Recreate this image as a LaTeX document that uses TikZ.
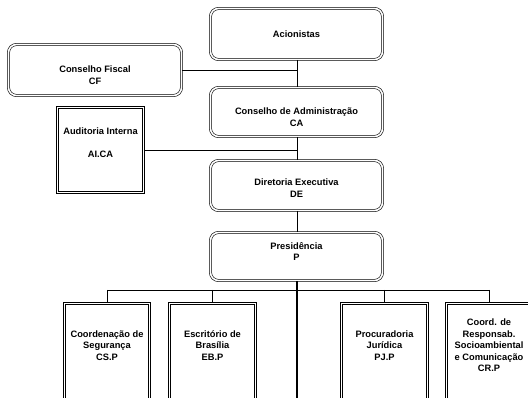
\documentclass[tikz,border=0pt]{standalone}
\usepackage{fontspec}
\setmainfont{Liberation Sans}
\begin{document}
\begin{tikzpicture}[x=1pt,y=-1pt,
  dbox/.style={draw, double, line width=0.6pt, double distance=1.6pt, inner sep=0pt},
  rbox/.style={dbox, rounded corners=8pt},
  txt/.style={align=center, font=\bfseries\fontsize{9.3}{11.5}\selectfont, inner sep=0pt},
  conn/.style={line width=0.7pt},
  trunk/.style={line width=1.4pt}]
\useasboundingbox (0,0) rectangle (528,398);
\clip (0,0) rectangle (528,398);
% boxes (path dims = outer - 3)
\node[rbox, minimum width=172pt, minimum height=51pt] (a) at (296.5,34) {};
\node[rbox, minimum width=173pt, minimum height=51pt] (cf) at (95,70) {};
\node[rbox, minimum width=172pt, minimum height=49pt] (ca) at (296.5,112) {};
\node[dbox, minimum width=86pt, minimum height=85pt] (ai) at (100.5,150) {};
\node[rbox, minimum width=172pt, minimum height=50pt] (de) at (296.5,185.5) {};
\node[rbox, minimum width=172pt, minimum height=48pt] (p) at (296.5,256.5) {};
\node[dbox, minimum width=85pt, minimum height=110pt] (b1) at (107,358.5) {};
\node[dbox, minimum width=86pt, minimum height=110pt] (b2) at (212.5,358.5) {};
\node[dbox, minimum width=86pt, minimum height=110pt] (b3) at (384.5,358.5) {};
\node[dbox, minimum width=85pt, minimum height=110pt] (b4) at (489,358.5) {};
% texts
\node[txt] (at) at (a.center) {Acionistas};
\node[txt] (cft) at ([yshift=-5pt]cf.center) {Conselho Fiscal\\CF};
\node[txt] (cat) at ([yshift=-5pt]ca.center) {Conselho de Administração\\CA};
\node[txt] (ait) at ([yshift=7pt]ai.center) {Auditoria Interna\\[11.5pt]AI.CA};
\node[txt] (det) at ([yshift=-2.5pt]de.center) {Diretoria Executiva\\DE};
\node[txt] (pt) at ([yshift=5pt]p.center) {Presidência\\P};
\node[txt] (b1t) at (107,345.5) {Coordenação de\\Segurança\\CS.P};
\node[txt] (b2t) at (212.5,345.5) {Escritório de\\Brasília\\EB.P};
\node[txt] (b3t) at (384.5,345.5) {Procuradoria\\Jurídica\\PJ.P};
\node[txt] (b4t) at (489,345.5) {Coord. de\\Responsab.\\Socioambiental\\e Comunicação\\CR.P};
% connectors
\coordinate (j1) at (297,70);
\coordinate (j2) at (297,150);
\coordinate (hl) at (107,290);
\coordinate (hr) at (489,290);
\coordinate (pend) at (297,400);
\draw[conn] ([xshift=0.5pt]a.south) -- ([xshift=0.5pt]ca.north);
\draw[conn] (cf.east) -- (j1);
\draw[conn] ([xshift=0.5pt]ca.south) -- ([xshift=0.5pt]de.north);
\draw[conn] (ai.east) -- (j2);
\draw[conn] ([xshift=0.5pt]de.south) -- ([xshift=0.5pt]p.north);
\draw[conn] (hl) -- (hr);
\draw[conn] (hl) -- (b1.north);
\draw[conn] (b2.north |- hl) -- (b2.north);
\draw[conn] (b3.north |- hl) -- (b3.north);
\draw[conn] (hr) -- (b4.north);
\draw[trunk] ([xshift=0.5pt]p.south) -- (pend);
\end{tikzpicture}
\end{document}
